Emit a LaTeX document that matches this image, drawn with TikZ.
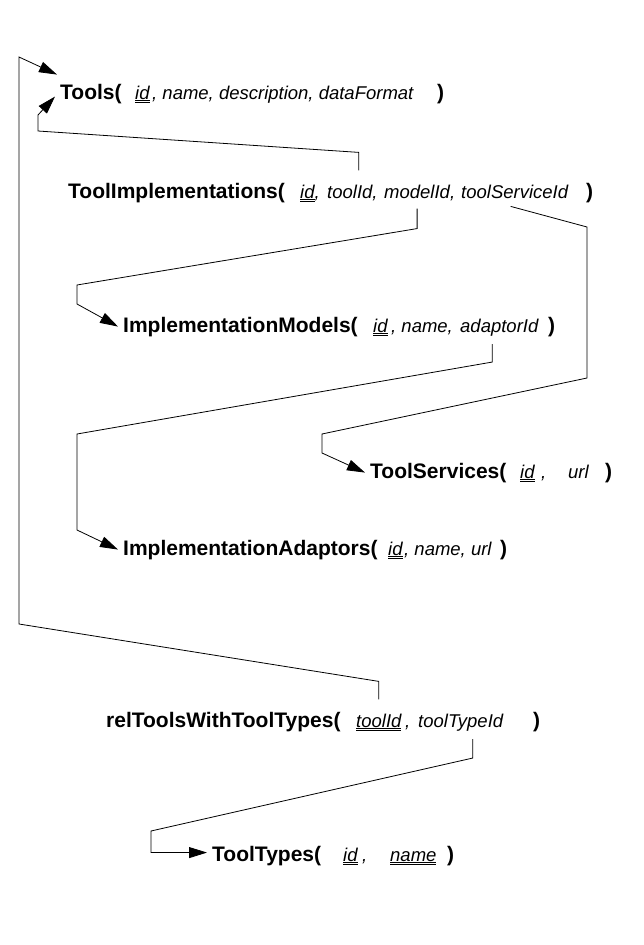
\documentclass[tikz,border=0pt]{standalone}
\usepackage{fontspec}
\setmainfont{Liberation Sans}
\usetikzlibrary{arrows.meta}

\newsavebox{\pkbox}
\newcommand{\pk}[1]{\sbox{\pkbox}{#1}\rlap{\rule[-1.6pt]{\wd\pkbox}{0.7pt}}\rlap{\rule[-3.6pt]{\wd\pkbox}{0.7pt}}\usebox{\pkbox}}

\begin{document}
\begin{tikzpicture}[
  x=1pt,y=-1pt,
  tbl/.style={anchor=base west,inner xsep=5pt,inner ysep=0pt,font=\fontsize{21}{25}\selectfont\bfseries},
  closing/.style={anchor=base west,inner sep=0pt,font=\fontsize{21}{25}\selectfont\bfseries},
  attr/.style={anchor=base west,inner xsep=0pt,inner ysep=8pt,font=\fontsize{18.5}{22}\selectfont\itshape},
  fk/.style={line width=0.8pt},
  ref/.style={fk,-{Triangle[length=18pt,width=11pt]}},
]
\useasboundingbox (0,0) rectangle (643,945);

% tables
\node[tbl] (tools) at (55,99) {Tools(};
\node[attr] (tools-id) at (135,99) {\pk{id}};
\node[attr] (tools-rest) at (152,99) {, name, description, dataFormat};
\node[closing] (tools-end) at (437,99) {)};

\node[tbl] (ti) at (63,198) {ToolImplementations(};
\node[attr] (ti-id) at (300,198) {\pk{id}\rlap{,}};
\node[attr] (ti-tool) at (327,198) {toolId\rlap{,}};
\node[attr] (ti-model) at (384,198) {modelId\rlap{,}};
\node[attr] (ti-svc) at (461,198) {toolServiceId};
\node[closing] (ti-end) at (586,198) {)};

\node[tbl] (im) at (118,332) {ImplementationModels(};
\node[attr] (im-id) at (373,332) {\pk{id}};
\node[attr] (im-name) at (391,332) {, name,};
\node[attr] (im-adaptor) at (460,332) {adaptorId};
\node[closing] (im-end) at (548,332) {)};

\node[tbl] (ts) at (365,478) {ToolServices(};
\node[attr] (ts-id) at (520,478) {\pk{id}};
\node[attr] (ts-c) at (541,478) {,};
\node[attr] (ts-url) at (568,478) {url};
\node[closing] (ts-end) at (605,478) {)};

\node[tbl] (ia) at (118,555) {ImplementationAdaptors(};
\node[attr] (ia-id) at (388,555) {\pk{id}};
\node[attr] (ia-rest) at (404,555) {, name, url};
\node[closing] (ia-end) at (500,555) {)};

\node[tbl] (rel) at (101,727) {relToolsWithToolTypes(};
\node[attr] (rel-tool) at (356,727) {\pk{toolId}};
\node[attr] (rel-c) at (405,727) {,};
\node[attr] (rel-type) at (418,727) {toolTypeId};
\node[closing] (rel-end) at (533,727) {)};

\node[tbl] (tt) at (207,861) {ToolTypes(};
\node[attr] (tt-id) at (343,861) {\pk{id}};
\node[attr] (tt-c) at (362,861) {,};
\node[attr] (tt-name) at (390,861) {\pk{name}};
\node[closing] (tt-end) at (447,861) {)};

% foreign keys
\draw[ref] ([xshift=9pt,yshift=6pt]ti-tool.north) -- ++(0,-18) -- (38,131) -- (38,115)
  -- ([yshift=-3pt]tools.west);
\draw[ref] ([yshift=6pt]rel-tool.north) -- ++(0,-18) -- (19,624) -- (19,57)
  -- ([xshift=2pt,yshift=9pt]tools.north west);
\draw[ref] (ti-model.south) -- ++(0,20) -- (77,285) -- (77,304) -- (im.west);
\draw[ref] ([xshift=-4pt]ti-svc.south) -- (587,227) -- (587,378) -- (322,434) -- (322,453) -- (ts.west);
\draw[ref] ([xshift=-7pt]im-adaptor.south) -- ++(0,18) -- (77,434) -- (77,530) -- (ia.west);
\draw[ref] ([xshift=12pt]rel-type.south) -- ++(0,19) -- (151,831) |- ([yshift=3pt]tt.west);
\end{tikzpicture}
\end{document}
